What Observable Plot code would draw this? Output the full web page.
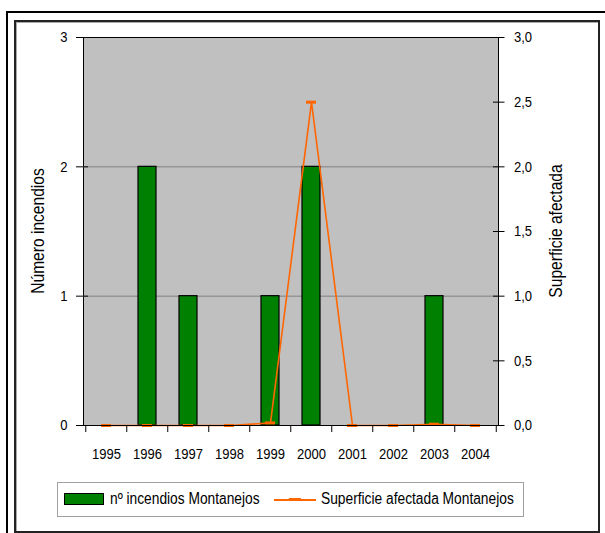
<!DOCTYPE html>
<html>
<head>
<meta charset="utf-8">
<script src="https://cdn.jsdelivr.net/npm/d3@7"></script>
<script src="https://cdn.jsdelivr.net/npm/@observablehq/plot@0.6"></script>
<style>
  body { margin: 0; background: #fff; }
  #wrap { position: relative; width: 605px; height: 533px; overflow: hidden;
          font-family: "Liberation Sans", Arial, sans-serif; color: #000; }
  #outer { position: absolute; left: 6px; top: 11px; width: 700px; height: 700px;
           border-top: 2px solid #000; border-left: 2px solid #000; }
  #inner { position: absolute; left: 14px; top: 20px; width: 582px; height: 509px;
           border: 2px solid #222; box-shadow: inset 1px 1px 0 #aaa; }
  #chart { position: absolute; left: 0; top: 0; }
  .title { position: absolute; top: 231px; font-size: 17.5px; line-height: 20px; white-space: nowrap;
           transform: translate(-50%, -50%) rotate(-90deg) scaleX(0.89); }
  #legend { position: absolute; left: 57px; top: 482px; width: 465px; height: 33px;
            border: 1px solid #a0a0a0; background: #fff; }
  #legend .sw { position: absolute; left: 6px; top: 10px; width: 38px; height: 10px;
                background: #008000; border: 1px solid #000; }
  #legend .ln { position: absolute; left: 216px; top: 16px; width: 42px; height: 1.5px; background: #ff6600; }
  #legend .mk { position: absolute; left: 231px; top: 15px; width: 12px; height: 3px; background: #ff6600; }
  #legend .t { position: absolute; top: 5.5px; font-size: 16px; line-height: 20px; white-space: nowrap;
               transform: scaleX(0.86); transform-origin: left center; }
</style>
</head>
<body>
<div id="wrap">
  <div id="outer"></div>
  <div id="inner"></div>
  <div id="chart"></div>
  <div class="title" id="tl" style="left:37.5px"></div>
  <div class="title" id="tr" style="left:556px"></div>
  <div id="legend">
    <div class="sw"></div><span class="t" id="l1" style="left:52px"></span>
    <div class="ln"></div><div class="mk"></div><span class="t" id="l2" style="left:263px"></span>
  </div>
</div>
<script>
const years = ["1995","1996","1997","1998","1999","2000","2001","2002","2003","2004"];
const incendios = [0, 2, 1, 0, 1, 2, 0, 0, 1, 0];
const superficie = [0, 0, 0, 0, 0.02, 2.5, 0, 0, 0.01, 0];
const leftTicks = [0, 1, 2, 3];
const rightTicks = [0, 0.5, 1, 1.5, 2, 2.5, 3];
const seriesNames = ["nº incendios Montanejos", "Superficie afectada Montanejos"];
const axisTitles = ["Número incendios", "Superficie afectada"];

document.getElementById("l1").textContent = seriesNames[0];
document.getElementById("l2").textContent = seriesNames[1];
document.getElementById("tl").textContent = axisTitles[0];
document.getElementById("tr").textContent = axisTitles[1];

const barData = years.map((year, i) => ({year, n: incendios[i]})).filter(d => d.n > 0);
const lineData = years.map((year, i) => ({year, s: superficie[i]}));

const W = 605, H = 533, mL = 83, mR = 107, mT = 37, mB = 108;
const plotW = W - mL - mR;
const step = plotW / years.length;

const chart = Plot.plot({
  width: W, height: H,
  marginLeft: mL, marginRight: mR, marginTop: mT, marginBottom: mB,
  style: {fontFamily: '"Liberation Sans", Arial, sans-serif', fontSize: "15.5px", color: "#000", background: "transparent", overflow: "visible"},
  x: {domain: years, paddingInner: 0.55, paddingOuter: 0.275, axis: null, label: null},
  y: {domain: [0, 3], axis: null, label: null},
  marks: [
    Plot.frame({fill: "#c0c0c0", stroke: "#000"}),
    Plot.ruleY([1, 2], {stroke: "#808080", strokeWidth: 1}),
    Plot.barY(barData, {x: "year", y: "n", fill: "#008000", stroke: "#000", strokeWidth: 1.2}),
    Plot.line(lineData, {x: "year", y: "s", stroke: "#ff6600", strokeWidth: 1.6}),
    Plot.tickY(lineData, {x: "year", y: "s", stroke: "#ff6600", strokeWidth: 3, insetLeft: 4, insetRight: 4}),
    Plot.ruleY([0], {stroke: "#000", strokeWidth: 1.2}),
    // x boundary ticks
    Plot.ruleX(years, {x: d => d, y1: 0, y2: 0, dx: -step / 2, insetBottom: -7, stroke: "#000"}),
    Plot.ruleX(years.slice(-1), {x: d => d, y1: 0, y2: 0, dx: step / 2, insetBottom: -7, stroke: "#000"}),
    Plot.axisX({ticks: years, tickSize: 0, tickPadding: 22, label: null, fontSize: 15.5}),
    // left axis
    Plot.axisY({anchor: "left", ticks: leftTicks, tickSize: 7, tickPadding: 9, label: null,
                tickFormat: d => String(d), fontSize: 15.5}),
    Plot.tickY(leftTicks, {y: d => d, insetRight: plotW - 5, stroke: "#000"}),
    // right axis
    Plot.axisY({anchor: "right", ticks: rightTicks, tickSize: 5.5, tickPadding: 10, label: null,
                tickFormat: d => d.toFixed(1).replace(".", ","), fontSize: 15.5}),
    Plot.tickY(rightTicks, {y: d => d, insetLeft: plotW - 5, stroke: "#000"})
  ]
});
document.getElementById("chart").appendChild(chart);
// narrow the tick label glyphs horizontally (Excel-like condensed rendering)
chart.querySelectorAll("text").forEach(t => {
  const w = t.getComputedTextLength();
  if (w > 0) {
    t.setAttribute("textLength", (w * 0.84).toFixed(2));
    t.setAttribute("lengthAdjust", "spacingAndGlyphs");
  }
});
</script>
</body>
</html>
